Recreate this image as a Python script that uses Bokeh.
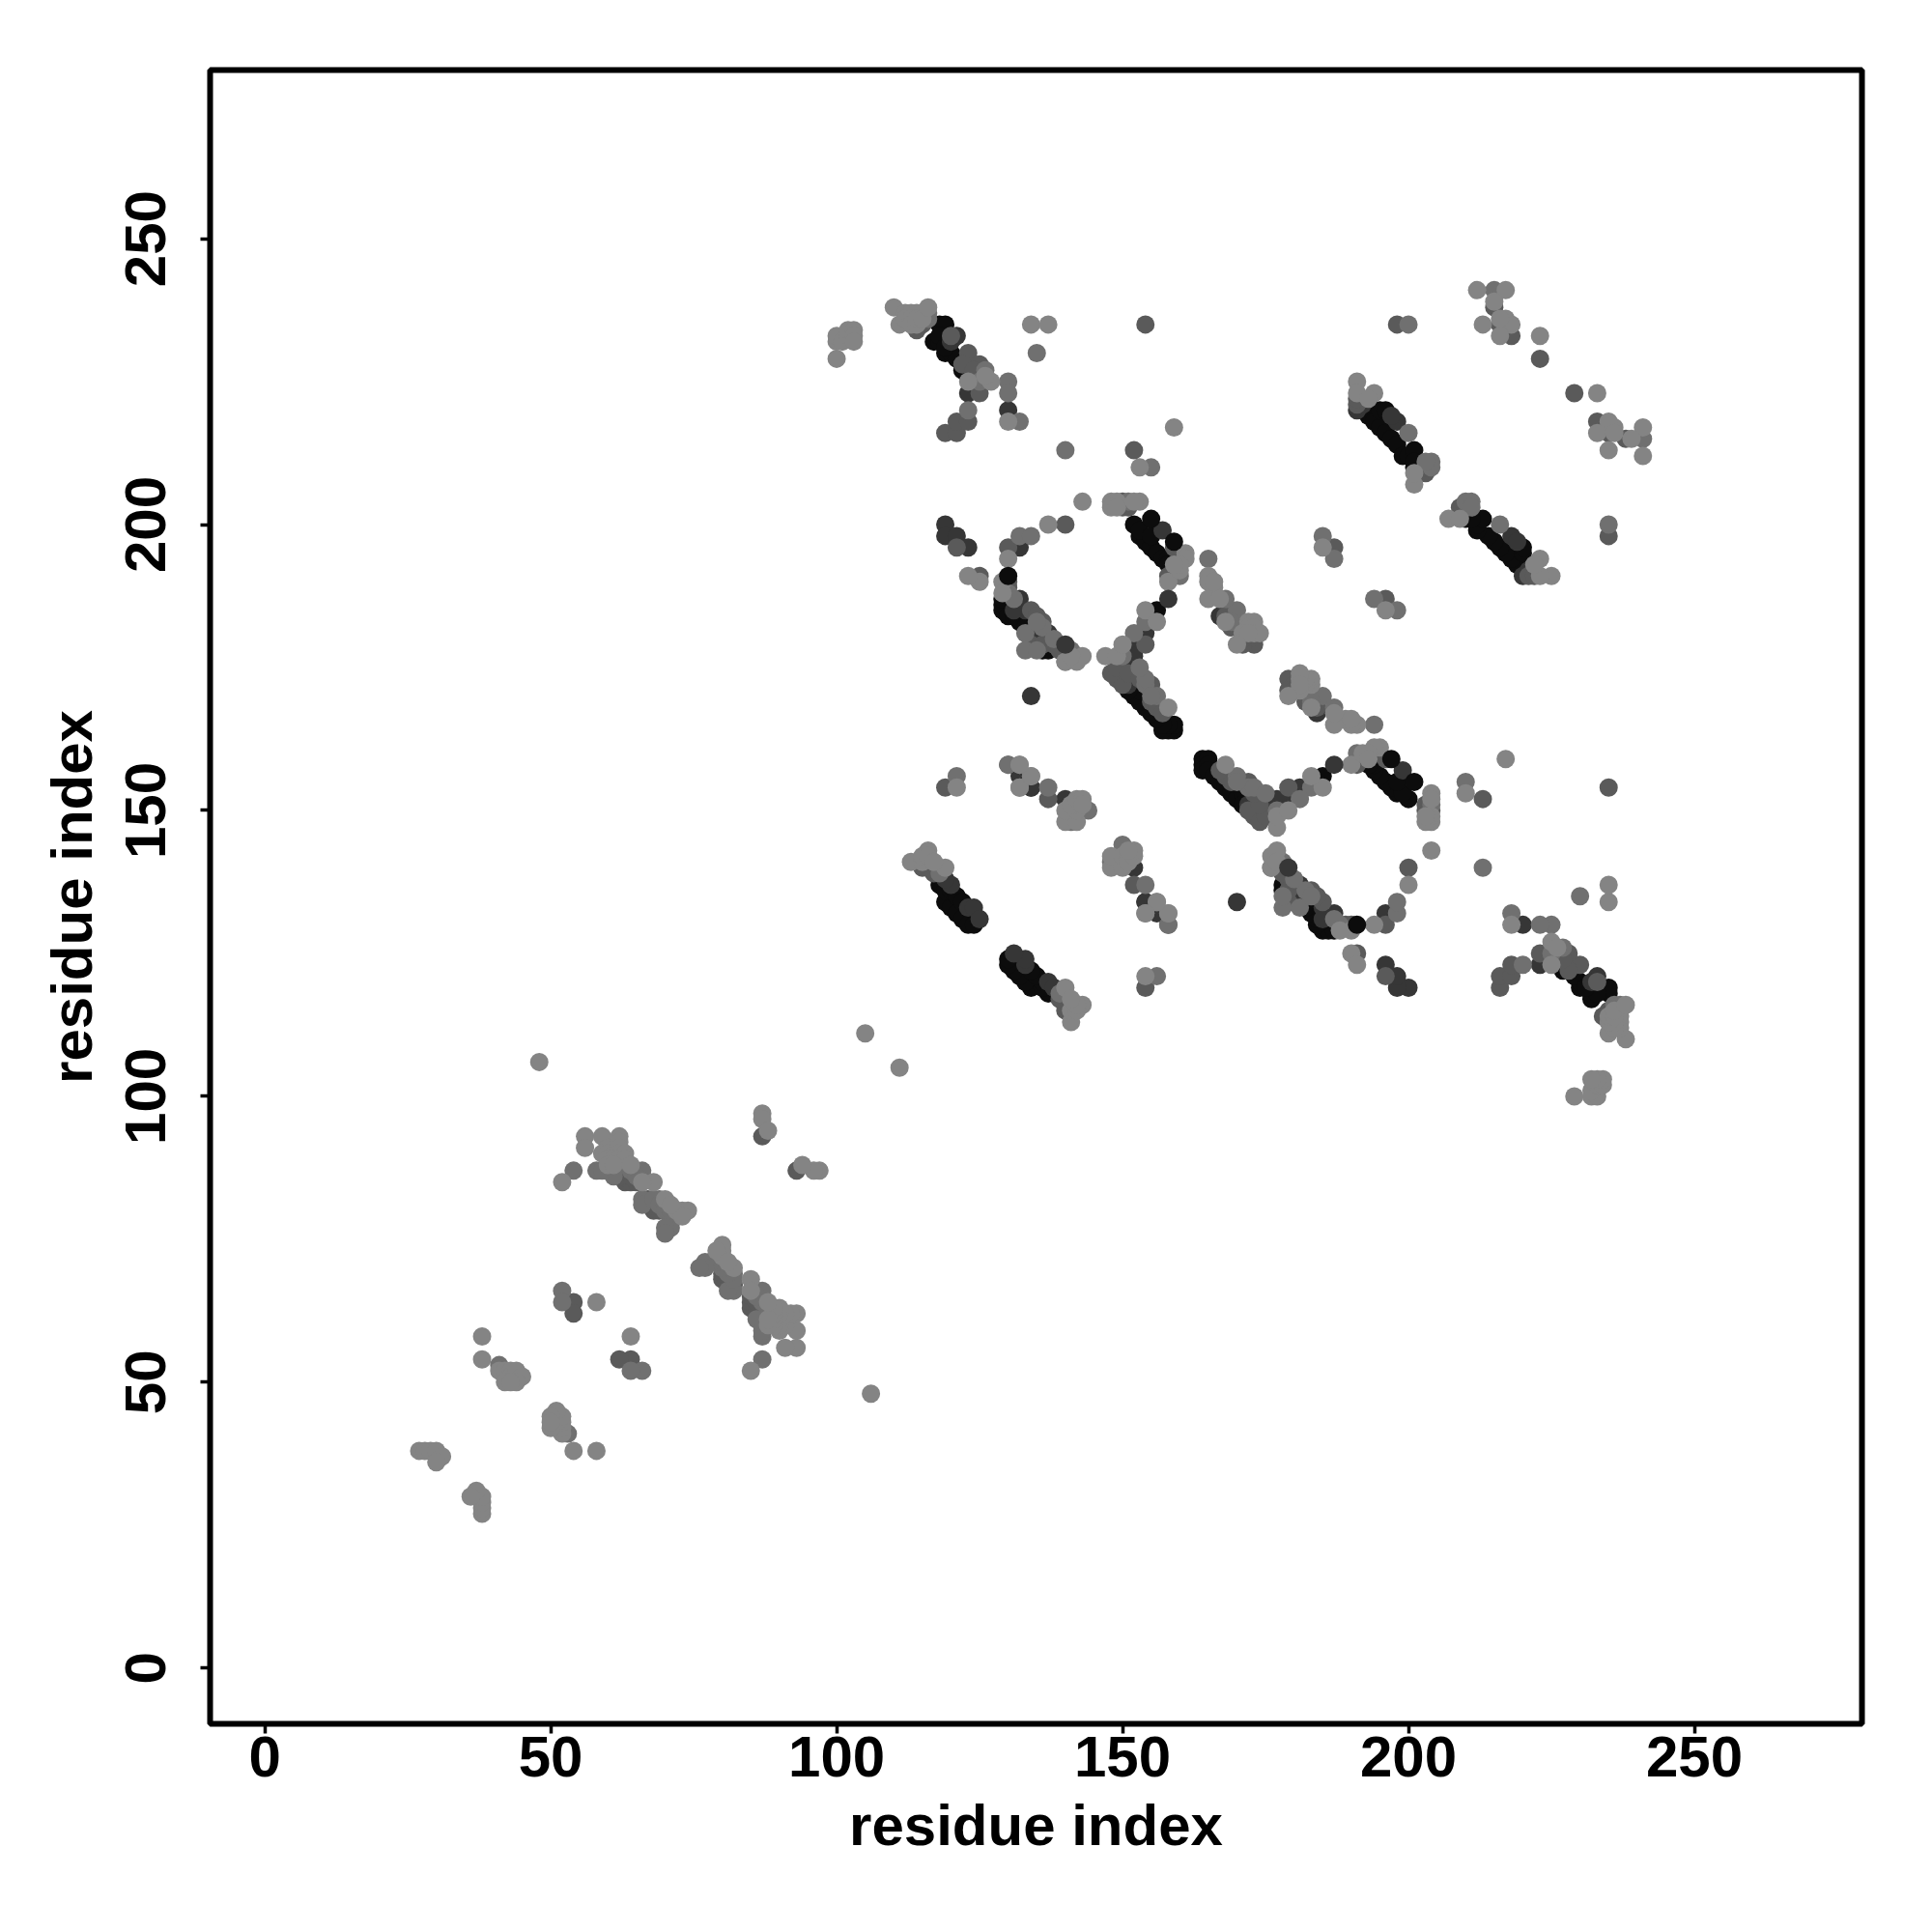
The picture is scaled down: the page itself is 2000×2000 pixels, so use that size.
from bokeh.plotting import figure
from bokeh.embed import file_html
from bokeh.resources import INLINE
from bokeh.models import Range1d, FixedTicker

tick_values = [0, 50, 100, 150, 200, 250]
axis_title = "residue index"

# contacts (i, j) with i < j, read by grey level; the map is symmetric, each also drawn as (j, i)
black_pairs = [
    (118,235),(119,235),(117,232),(118,232),(118,233),(119,230),(120,230),(121,229),(122,227),(123,226),(124,225),(119,231),
    (129,185),(129,186),(129,187),(130,184),(131,184),(132,183),(133,182),(134,181),(135,180),(136,178),(137,178),
    (159,164),(158,164),(157,164),(159,165),(158,165),(157,165),(156,166),(155,167),(154,168),(153,169),(152,170),(153,171),(151,171),
    (156,185),(152,200),(153,198),(154,197),(155,196),(156,195),(157,194),(158,194),(158,193),(153,199),(155,198),
    (193,219),(194,218),(195,217),(196,216),(197,215),(198,214),(199,212),(200,212),(201,213),(201,210),(201,211),(195,220),(196,220),
    (118,137),(119,134),(119,136),(120,133),(120,136),(121,132),(121,135),(122,131),(122,134),(123,130),(124,130),
]
vdark_pairs = [
    (121,233),(120,232),(119,200),(119,198),(121,198),(123,196),(123,223),(130,220),
    (132,187),(133,185),(137,181),(131,185),(135,182),(136,180),(142,177),(134,170),
    (152,175),(151,172),(154,181),(152,179),(150,175),(152,177),
    (192,221),(191,220),(198,218),(197,219),
    (157,199),(120,137),(123,133),(124,133),(125,131),(119,138),
    (132,156),(140,152),(141,150),(154,134),(132,196),(170,182),(167,184),(134,154),
]
dark_pairs = [
    (154,235),(119,216),(121,216),(121,218),(123,218),(125,223),(125,226),(124,228),(123,230),(125,228),(120,233),(115,235),(114,234),(122,228),(124,227),
    (121,196),(125,191),(140,200),(130,196),(134,185),(130,189),(130,190),(135,184),(136,183),(138,179),(139,178),(134,179),(136,179),
    (149,173),(150,172),(154,179),(148,174),(149,175),(151,174),(153,173),(155,172),(155,169),(156,168),(157,167),
    (159,196),(158,191),(150,204),(150,203),(151,203),(152,213),(223,229),(218,233),(216,235),(215,238),(198,235),(187,196),
    (173,179),(172,180),(171,179),(171,180),(168,184),(169,182),(203,209),(203,210),(191,221),(191,222),
    (116,140),(115,140),(117,139),(119,154),(137,152),(158,130),
    (54,64),(54,62),(87,93),(63,86),(63,85),(64,85),(62,86),(62,87),(67,82),(67,81),(68,81),(68,80),(69,80),(65,85),(64,86),
]
mid_pairs = [
    (52,66),(52,64),(41,53),(42,51),(54,87),(64,87),(65,87),(66,86),(66,87),(65,86),(61,87),(60,87),(61,86),(58,87),(59,87),
    (66,82),(66,81),(69,82),(68,82),(69,81),(70,81),(70,80),(71,80),(71,79),(72,79),(71,78),(71,77),(70,77),(70,76),
    (116,236),(116,237),(115,237),(126,227),(125,225),(130,225),(130,223),(123,220),(132,218),(135,230),(140,213),(155,210),(215,241),(200,235),
    (132,198),(134,198),(130,188),(131,187),(136,182),(138,180),(141,178),(140,176),(133,181),(133,178),(135,178),(135,183),
    (156,170),(154,172),(154,173),(154,183),(152,181),(153,175),(150,177),(155,170),
    (121,156),(130,158),(137,154),(144,150),(141,148),(185,198),(187,194),
    (170,185),(168,187),(165,194),(169,183),(200,216),(204,211),(204,210),(203,211),(160,191),(151,204),(118,139),
]
light_pairs = [
    (27,38),(28,38),(29,38),(30,38),(31,37),(30,36),(38,58),(38,54),(48,106),(105,111),(56,93),(56,91),(59,93),(62,93),(52,85),(58,64),(87,97),(87,96),(88,94),
    (60,91),(59,90),(60,90),(61,90),(62,92),(62,91),(62,90),(63,90),(60,89),(61,89),(62,89),(63,89),(60,88),(61,88),(68,85),(72,80),(73,80),(74,80),(73,79),(70,82),(71,81),
    (41,52),(42,52),(43,52),(43,51),(44,51),(44,52),(45,51),(44,50),(42,50),(43,50),(64,88),(66,85),
    (100,229),(100,232),(100,233),(101,232),(102,233),(102,234),(103,234),(103,233),(103,232),
    (110,238),(111,235),(112,237),(113,237),(114,237),(112,236),(113,236),(113,235),(114,235),(114,236),(115,236),(116,238),
    (134,235),(137,235),(127,225),(126,226),(123,225),(130,218),
    (113,141),(115,141),(116,143),(115,142),(116,142),(119,140),(117,141),
    (121,154),(132,158),(134,156),(132,154),(140,148),(142,148),(140,150),(142,150),(142,151),(141,151),(142,152),(143,152),(143,151),(154,132),(156,134),(158,132),
    (153,210),(159,217),(143,204),(137,200),(148,204),(149,204),(148,203),(149,203),(153,204),(152,204),(130,194),(129,190),(125,190),(123,191),
    (129,188),(140,176),(142,176),(143,177),(141,177),
    (147,177),(149,177),(150,179),(154,185),(156,183),(158,168),(158,190),(160,192),(161,195),(161,194),(160,193),(159,193),
    (165,191),(165,190),(166,189),(165,187),(166,190),(172,183),(173,183),(172,182),(173,182),(173,181),(174,181),(171,181),(172,181),(170,179),(168,183),(167,187),
    (185,196),(191,225),(191,223),(194,223),(193,222),(201,207),(201,209),
    (212,241),(217,241),(215,239),(213,235),(217,236),(218,235),(216,233),(216,236),(223,233),
]
top_black_pairs = [(130,191),(159,197),(155,201)]
top_vdark_pairs = [(140,179),(158,187)]

tiers = [
    (black_pairs, "#0c0c0c"),
    (vdark_pairs, "#363636"),
    (dark_pairs, "#5a5a5a"),
    (mid_pairs, "#707070"),
    (light_pairs, "#848484"),
    (top_black_pairs, "#0c0c0c"),
    (top_vdark_pairs, "#363636"),
]

p = figure(width=1984, height=1984, output_backend="svg", toolbar_location=None,
           x_range=Range1d(-9.56, 279.3), y_range=Range1d(-9.75, 279.5),
           min_border_left=217, min_border_right=57, min_border_top=72, min_border_bottom=200)

for pairs, col in tiers:
    i = [a for a, b in pairs]
    j = [b for a, b in pairs]
    p.scatter(i + j, j + i, size=19, fill_color=col, line_color=None)

p.grid.visible = False
p.background_fill_color = "white"
p.outline_line_color = "black"
p.outline_line_width = 6
for ax in (p.xaxis[0], p.yaxis[0]):
    ax.ticker = FixedTicker(ticks=tick_values)
    ax.axis_line_color = None
    ax.major_tick_line_color = "black"
    ax.major_tick_line_width = 3.5
    ax.major_tick_in = 0
    ax.major_tick_out = 10
    ax.minor_tick_line_color = None
    ax.axis_label = axis_title
    ax.axis_label_text_font = "Liberation Sans"
    ax.axis_label_text_font_style = "bold"
    ax.axis_label_text_font_size = "60px"
    ax.axis_label_text_color = "black"
    ax.major_label_text_font = "Liberation Sans"
    ax.major_label_text_font_style = "bold"
    ax.major_label_text_font_size = "60px"
    ax.major_label_text_color = "black"
p.yaxis[0].major_label_orientation = "vertical"
p.xaxis[0].major_label_standoff = 3
p.xaxis[0].axis_label_standoff = 14
p.yaxis[0].major_label_standoff = 36
p.yaxis[0].axis_label_standoff = 20

open("out.html", "w").write(file_html(p, INLINE))
